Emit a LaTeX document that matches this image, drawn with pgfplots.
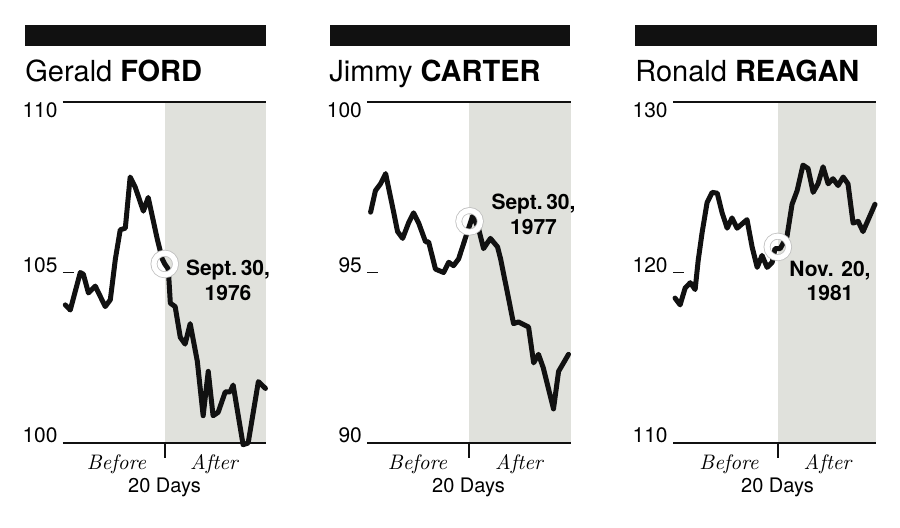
\documentclass[border=0pt]{standalone}
\usepackage{fontspec}
\setsansfont{TeX Gyre Heros}
\usepackage{pgfplots}
\pgfplotsset{compat=1.18}
\definecolor{bggray}{RGB}{224,225,220}
\definecolor{ink}{RGB}{17,17,17}

\pgfplotsset{
  panel/.style={
    scale only axis, width=101.75pt, height=170.5pt,
    anchor=south west,
    separate axis lines,
    y axis line style={draw=none},
    x axis line style={line width=0.8pt, ink},
    axis on top,
    clip=false,
    xtick=\empty,
    ytick pos=left,
    tick align=inside,
    major tick length=5.5pt,
    ytick style={line width=0.8pt, ink},
    yticklabel style={font=\sffamily\fontsize{10.5}{12}\selectfont, anchor=base east, inner sep=0pt, xshift=-2.5pt},
    /pgf/number format/assume math mode=true,
  },
  dataline/.style={line width=2.5pt, ink, line join=round, line cap=round},
  ringA/.style={only marks, mark=o, mark size=5.4pt, mark options={draw=black!25, line width=3.4pt}},
  ringB/.style={only marks, mark=o, mark size=5.4pt, mark options={draw=white, line width=2.6pt}},
}

\begin{document}
\begin{tikzpicture}
\useasboundingbox (0,0) rectangle (450pt,-264pt);

% ---------- FORD ----------
\begin{axis}[panel, at={(31.5pt,-221.5pt)},
  xmin=-20, xmax=20, ymin=100, ymax=110,
  ytick={100,105,110}, yticklabels={100,105,\raisebox{-7.9pt}{110}}]
\fill[bggray] (axis cs:0,100) rectangle (axis cs:20,110);
\draw[line width=0.8pt, ink] (axis cs:0,100) -- ([yshift=-7.5pt]axis cs:0,100);
\addplot[dataline] coordinates {
(-19.55,104.05) (-18.57,103.9) (-16.6,105.0) (-16.0,104.95) (-15.0,104.4)
(-13.65,104.6) (-11.7,104.0) (-10.7,104.2) (-9.7,105.4) (-8.75,106.25)
(-7.75,106.3) (-6.8,107.8) (-5.8,107.5) (-4.2,106.8) (-3.25,107.2)
(-1.5,106.0) (-0.5,105.4) (0,105.25) (0.7,105.1) (1.1,104.1) (2.05,104.0)
(3.05,103.1) (4.0,102.9) (5.0,103.5) (6.4,102.4) (7.55,100.8) (8.55,102.1)
(9.5,100.8) (10.5,100.9) (11.9,101.5) (12.85,101.5) (13.45,101.7)
(15.4,99.95) (16.4,100.0) (18.4,101.8) (19.8,101.6)
};
\addplot[ringA] coordinates {(0,105.25)};
\addplot[ringB] coordinates {(0,105.25)};
\end{axis}

% ---------- CARTER ----------
\begin{axis}[panel, at={(183.65pt,-221.5pt)},
  xmin=-20, xmax=20, ymin=90, ymax=100,
  ytick={90,95,100}, yticklabels={90,95,\raisebox{-7.9pt}{100}}]
\fill[bggray] (axis cs:0,90) rectangle (axis cs:20,100);
\draw[line width=0.8pt, ink] (axis cs:0,90) -- ([yshift=-7.5pt]axis cs:0,90);
\addplot[dataline] coordinates {
(-19.35,96.77) (-18.4,97.4) (-17.4,97.6) (-16.4,97.9) (-15.0,96.9)
(-14.05,96.2) (-13.05,96.0) (-11.9,96.45) (-10.9,96.75) (-9.9,96.45)
(-8.55,95.9) (-7.95,95.9) (-6.6,95.1) (-5.0,95.0) (-4.0,95.3) (-3.05,95.2)
(-2.05,95.4) (-0.3,96.2) (0.7,96.65) (1.85,96.3) (2.85,95.7) (4.2,96.0)
(5.6,95.75) (6.2,95.4) (7.55,94.4) (8.75,93.5) (9.7,93.55) (11.7,93.4)
(12.7,92.35) (13.65,92.6) (14.6,92.2) (16.6,91.0) (17.6,92.1) (19.55,92.6)
};
\addplot[ringA] coordinates {(0.1,96.5)};
\addplot[ringB] coordinates {(0.1,96.5)};
\end{axis}

% ---------- REAGAN ----------
\begin{axis}[panel, at={(336.5pt,-221.5pt)},
  xmin=-20.6, xmax=19.4, ymin=110, ymax=130,
  ytick={110,120,130}, yticklabels={110,120,\raisebox{-7.9pt}{130}}]
\fill[bggray] (axis cs:0,110) rectangle (axis cs:19.4,130);
\draw[line width=0.8pt, ink] (axis cs:0,110) -- ([yshift=-7.5pt]axis cs:0,110);
\addplot[dataline] coordinates {
(-20.2,118.5) (-19.2,118.1) (-18.2,119.1) (-17.2,119.4) (-16.25,119.0)
(-15.65,120.7) (-14.9,122.3) (-13.9,124.1) (-12.9,124.7) (-11.9,124.65)
(-10.95,123.5) (-9.95,122.6) (-9.0,123.2) (-8.0,122.6) (-6.05,123.1)
(-5.05,121.5) (-4.05,120.3) (-3.1,121.0) (-2.1,120.3) (-1.1,120.6)
(-0.55,121.4) (0.45,121.4) (1.8,122.1) (2.8,124.0) (3.8,124.8) (4.95,126.3)
(5.95,126.1) (6.95,124.7) (7.9,125.2) (8.9,126.2) (9.9,125.2) (10.85,125.5)
(11.85,125.1) (12.85,125.6) (13.8,125.2) (14.8,122.9) (15.8,123.0)
(16.75,122.4) (19.1,124.0)
};
\addplot[ringA] coordinates {(0,121.5)};
\addplot[ringB] coordinates {(0,121.5)};
\end{axis}

% ---------- decorations and text ----------
\begin{scope}[x=0.5pt, y=-0.5pt]
\fill[ink] (25,25) rectangle (266,46);
\fill[ink] (330,25) rectangle (570,46);
\fill[ink] (635,25) rectangle (877,46);

\begin{scope}[every node/.style={anchor=base west, inner sep=0pt, font=\sffamily\fontsize{14.5}{17}\selectfont}]
\node at (25,82) {Gerald \textbf{FORD}};
\node at (329,82) {Jimmy \textbf{CARTER}};
\node at (635,82) {Ronald \textbf{REAGAN}};
\end{scope}

\begin{scope}[every node/.style={anchor=base, inner sep=0pt, font=\sffamily\bfseries\fontsize{10.5}{12.5}\selectfont}]
\node at (228,276) {Sept.\,30,};
\node at (228,301) {1976};
\node at (533.5,210) {Sept.\,30,};
\node at (533.5,235) {1977};
\node at (830,277) {Nov. 20,};
\node at (830,301) {1981};
\end{scope}

\begin{scope}[every node/.style={anchor=base, inner sep=0pt, font=\rmfamily\itshape\fontsize{10.5}{12}\selectfont}]
\node at (116.5,470) {Before};
\node at (214,470) {After};
\node at (417.5,470) {Before};
\node at (519,470) {After};
\node at (729,470) {Before};
\node at (827.5,470) {After};
\end{scope}

\begin{scope}[every node/.style={anchor=base, inner sep=0pt, font=\sffamily\fontsize{10}{12}\selectfont}]
\node at (164.5,493) {20 Days};
\node at (468.5,493) {20 Days};
\node at (777.5,493) {20 Days};
\end{scope}
\end{scope}
\end{tikzpicture}
\end{document}
